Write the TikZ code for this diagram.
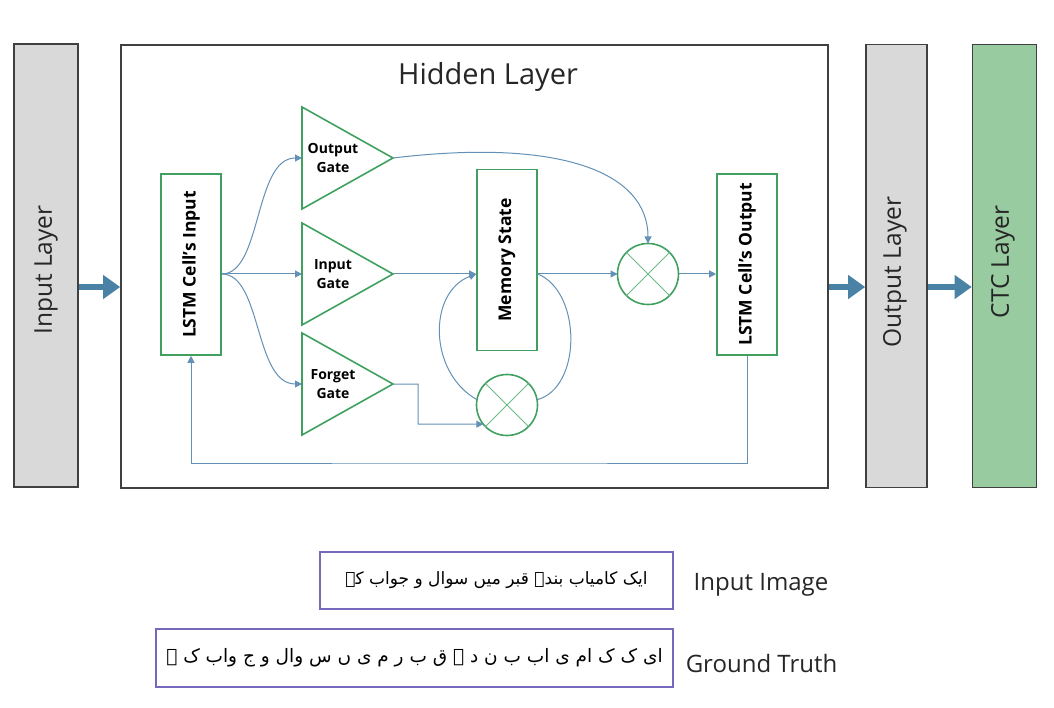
\documentclass[tikz,border=0pt]{standalone}
\usepackage{fontspec}
\setmainfont{Open Sans}
\newfontfamily\urdufont[Script=Arabic]{DejaVu Sans}
\TeXXeTstate=1
\usetikzlibrary{arrows.meta}

\definecolor{cellgreen}{RGB}{64,160,96}
\definecolor{crossgreen}{RGB}{110,185,135}
\definecolor{flowblue}{RGB}{98,144,182}
\definecolor{bigblue}{RGB}{74,130,165}
\definecolor{layergray}{RGB}{217,217,217}
\definecolor{ctcgreen}{RGB}{152,203,160}
\definecolor{boxpurple}{RGB}{118,104,186}

\tikzset{
  layerbox/.style={draw=black!75, line width=1.6pt, minimum width=64pt, minimum height=443pt, inner sep=0pt},
  layertext/.style={rotate=90, font=\fontsize{24.5}{26}\selectfont, text=black!85},
  cellbox/.style={draw=cellgreen, line width=1.6pt, fill=white, minimum width=60pt, minimum height=181pt, inner sep=0pt},
  celltext/.style={rotate=90, font=\bfseries\fontsize{17.5}{19}\selectfont},
  gate/.style={draw=cellgreen, line width=1.6pt, line join=miter},
  gatetext/.style={align=center, font=\bfseries\fontsize{14}{19}\selectfont},
  mul/.style={circle, draw=cellgreen, line width=1.6pt, fill=white, minimum size=61pt, inner sep=0pt, outer sep=0pt},
  crossline/.style={draw=crossgreen, line width=1pt},
  flow/.style={draw=flowblue, line width=1pt, -{Triangle[length=7pt,width=7pt]}},
  flowline/.style={draw=flowblue, line width=1pt},
  bigflow/.style={draw=bigblue, line width=6pt, -{Triangle[length=17pt,width=23pt]}},
  samplebox/.style={draw=boxpurple, line width=1.4pt, inner sep=0pt}
}

\begin{document}
\begin{tikzpicture}[x=1pt,y=-1pt]
\useasboundingbox (0,0) rectangle (1054,708);

% layers
\node[layerbox, fill=layergray] (inl) at (46,265.5) {};
\node[layerbox, minimum width=707pt] (hid) at (474.5,266.5) {};
\node[layerbox, fill=layergray, minimum width=61pt] (outl) at (896.5,266) {};
\node[layerbox, fill=ctcgreen] (ctc) at (1004.5,266) {};
\node[layertext] at (46,270) {Input Layer};
\node[layertext] at (895,272) {Output Layer};
\node[layertext] at (1003,262) {CTC Layer};
\node[font=\fontsize{29}{32}\selectfont, text=black!85] (title) at (488,77) {Hidden Layer};

\coordinate (mid) at (0,287);
\draw[bigflow] (inl.east |- mid) -- (hid.west |- mid);
\draw[bigflow] (hid.east |- mid) -- (outl.west |- mid);
\draw[bigflow] (outl.east |- mid) -- (ctc.west |- mid);

% cell
\node[cellbox] (cin) at (191,264.5) {};
\node[celltext] at (cin) {LSTM Cell’s Input};
\node[cellbox] (ms) at (507,260) {};
\node[celltext] at (ms) {Memory State};
\node[cellbox] (cout) at (747,264.5) {};
\node[celltext] at (cout) {LSTM Cell’s Output};

\foreach \g/\y/\txt in {og/158/Output,ig/274/Input,fg/384/Forget}{
  \draw[gate] (302,\y-51) -- (393,\y) -- (302,\y+51) -- cycle;
  \node[gatetext] (\g) at (333,\y) {\txt\\Gate};
  \coordinate (\g-in) at (302,\y);
  \coordinate (\g-out) at (393,\y);
}

\node[mul] (mulo) at (648,274) {};
\node[mul] (mulf) at (507,405) {};
\foreach \m in {mulo,mulf}
  \draw[crossline] (\m.north west) -- (\m.south east) (\m.north east) -- (\m.south west);

% connections
\coordinate (fan) at (cin.east |- ig-in);
\draw[flow] (fan) .. controls (262,274) and (254,158) .. (og-in);
\draw[flow] (fan) -- (ig-in);
\draw[flow] (fan) .. controls (262,274) and (254,384) .. (fg-in);

\draw[flow] (og-out) .. controls (560,138) and (648,172) .. (mulo.north);
\draw[flow] (ig-out) -- (ms.west |- ig-out);
\coordinate (bend) at (418,424);
\draw[flow] (fg-out) -| (bend) -- (mulf.219);

\draw[flowline] (ms.east |- ig-out) .. controls (582,292) and (582,388) .. (mulf.10);
\draw[flow] (mulf.170) .. controls (428,372) and (428,292) .. (ms.west |- ig-out);
\draw[flow] (ms.east |- ig-out) -- (mulo.west);
\draw[flow] (mulo.east) -- (cout.west |- mulo.east);

\coordinate (fb) at (470,463);
\draw[flow] (cout.south) |- (fb) -| (cin.south);

% sample
\node[samplebox, minimum width=353pt, minimum height=57pt, font=\urdufont\fontsize{17}{20}\selectfont] (img) at (496.5,580.5)
  {\beginR ایک کامیاب بندہ قبر میں سوال و جواب کے\endR};
\node[samplebox, minimum width=517pt, minimum height=58pt, font=\urdufont\fontsize{18.5}{22}\selectfont] (gt) at (414.5,658)
  {\beginR ای ک ک ام ی اب ب ن د ہ ق ب ر م ی ں س وال و ج واب ک ے\endR};
\node[font=\fontsize{24}{26}\selectfont, text=black!85] at (761,585) {Input Image};
\node[font=\fontsize{24}{26}\selectfont, text=black!85] at (761.5,663) {Ground Truth};
\end{tikzpicture}
\end{document}
